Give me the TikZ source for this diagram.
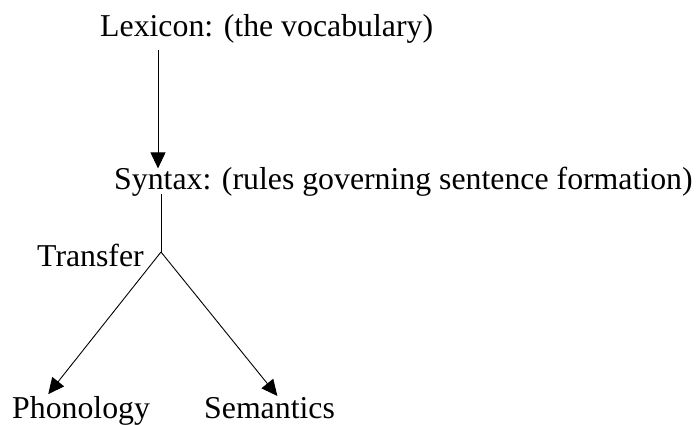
\documentclass[tikz,border=0pt]{standalone}
\usepackage{fontspec}
\setmainfont{Liberation Serif}
\usetikzlibrary{arrows.meta}
\begin{document}
\begin{tikzpicture}[x=1pt,y=-1pt,
  label text/.style={anchor=base west,inner sep=0pt,font=\fontsize{31.8}{38}\selectfont},
  link/.style={line width=0.9pt},
  arrowlink/.style={link,-{Triangle[length=16pt,width=15pt]}}]
  \useasboundingbox (0,0) rectangle (696,425);

  % level labels
  \node[label text] (lex)   at (100,37)  {Lexicon: (the vocabulary)};
  \node[label text] (syn)   at (114,189) {Syntax: (rules governing sentence formation)};
  \node[label text] (trans) at (37,266)  {Transfer};
  \node[label text] (phon)  at (12,418)  {Phonology};
  \node[label text] (sem)   at (204,418) {Semantics};

  % guide points for the connectors
  \coordinate (lexdrop) at (158,0);
  \coordinate (split)   at (161,252);
  \coordinate (phontip) at (47,0);
  \coordinate (semtip)  at (278,0);

  % lexicon feeds syntax
  \draw[arrowlink,shorten <=6pt,shorten >=-2pt] (lex.south -| lexdrop) -- (syn.north -| lexdrop);
  % syntax stem down to the transfer split
  \draw[link,shorten <=-2pt] (syn.south -| split) -- (split);
  % transfer branches
  \draw[arrowlink,shorten >=2pt] (split) -- (phon.north -| phontip);
  \draw[arrowlink,shorten >=1pt] (split) -- (sem.north -| semtip);
\end{tikzpicture}
\end{document}
